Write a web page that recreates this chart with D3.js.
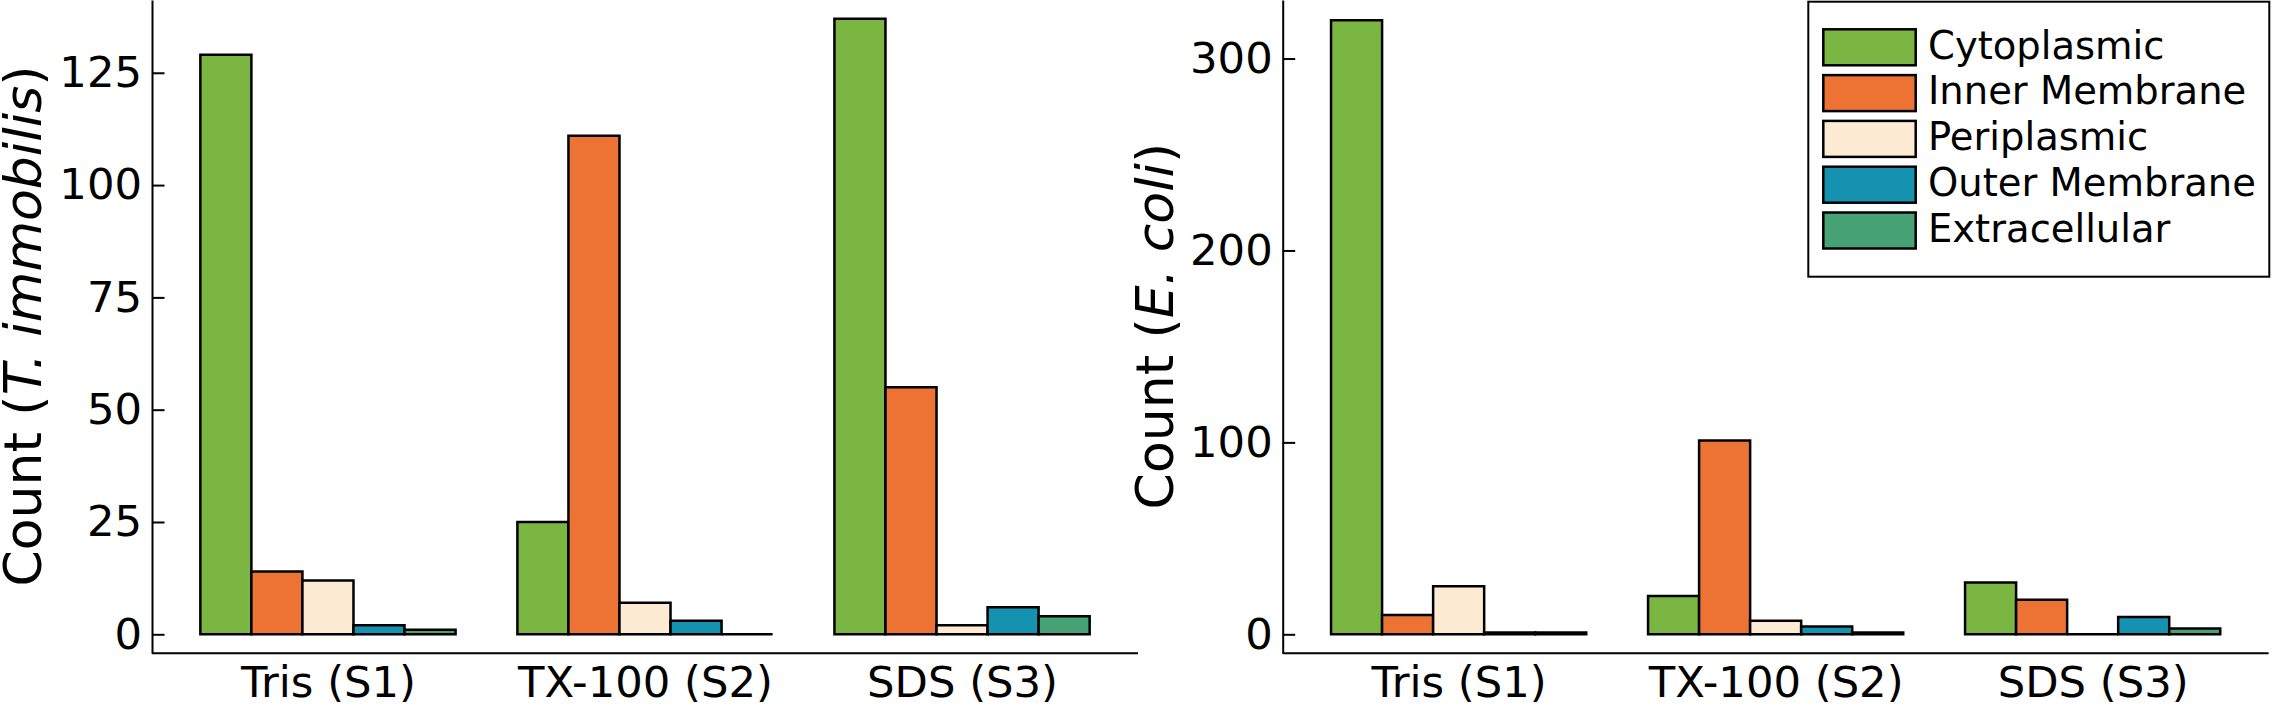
<!DOCTYPE html>
<meta charset="utf-8">

<style type="text/css">
body {
  margin: 0;
  background: #fff;
}
svg text {
  font-family: "DejaVu Sans", sans-serif;
  fill: #000;
}
.axis path, .axis line {
  stroke: #000;
  stroke-width: 2;
}
.bar {
  stroke: #000;
  stroke-width: 2.5;
}
</style>

<body>
  <div id="chart"></div>
</body>

<script src="https://d3js.org/d3.v7.min.js"></script>
<script>
// treatments along the x axis and the subcellular locations (one bar each)
var treatments = ["Tris (S1)", "TX-100 (S2)", "SDS (S3)"];
var locations = ["Cytoplasmic", "Inner Membrane", "Periplasmic", "Outer Membrane", "Extracellular"];
var colors = ["#7cb642", "#ed7335", "#fdead3", "#1592b0", "#47a376"];

// counts per treatment, in the order of locations
var immobilisCounts = [
  [129, 14, 12, 2, 1],
  [25, 111, 7, 3, 0],
  [137, 55, 2, 6, 4]
];
var coliCounts = [
  [320, 10, 25, 1, 1],
  [20, 101, 7, 4, 1],
  [27, 18, 0, 9, 3]
];

var immobilisTicks = [0, 25, 50, 75, 100, 125];
var coliTicks = [0, 100, 200, 300];

var W = 2275, H = 708;
var barW = 0.161;

var svg = d3.select("#chart").append("svg")
    .attr("width", W)
    .attr("height", H);

function drawPanel(counts, ticks, yDomain, left, right, labelX, species) {
  var xScale = d3.scaleLinear()
      .domain([-0.555, 2.555])
      .range([left, right]);
  var yScale = d3.scaleLinear()
      .domain(yDomain)
      .range([653.3, 0]);

  var g = svg.append("g");

  // bars, drawn as paths so zero-height bars still show their edge
  counts.forEach(function(row, i) {
    row.forEach(function(v, j) {
      var x0 = xScale(i + (j - 2.5) * barW);
      var x1 = xScale(i + (j - 1.5) * barW);
      var y0 = yScale(0), y1 = yScale(v);
      g.append("path")
          .attr("class", "bar")
          .attr("fill", colors[j])
          .attr("d", "M" + x0 + "," + y0 + "H" + x1 + "V" + y1 + "H" + x0 + "Z");
    });
  });

  // y axis with inward ticks
  g.append("g")
      .attr("class", "axis")
      .attr("transform", "translate(" + left + ",0)")
      .call(d3.axisLeft(yScale).tickValues(ticks).tickSizeInner(-12.5).tickSizeOuter(0).tickPadding(10))
      .selectAll("text")
      .style("font-size", "43.3px");

  // x axis, no tick marks
  var xa = g.append("g")
      .attr("class", "axis")
      .attr("transform", "translate(0,653.3)")
      .call(d3.axisBottom(xScale).tickValues([0, 1, 2])
        .tickFormat(function(d) { return treatments[d]; })
        .tickSize(0).tickPadding(12.7));
  xa.selectAll("text").style("font-size", "43.3px");
  xa.select(".domain").attr("d", "M" + left + ",0H" + right);

  // y label with the species name in italics
  var lab = g.append("text")
      .attr("transform", "translate(" + labelX + ",326) rotate(-90)")
      .attr("text-anchor", "middle")
      .style("font-size", "52px");
  lab.append("tspan").text("Count (");
  lab.append("tspan").style("font-style", "italic").text(species);
  lab.append("tspan").text(")");
}

drawPanel(immobilisCounts, immobilisTicks, [-4.23, 141.2], 152, 1138, 41, "T. immobilis");
drawPanel(coliCounts, coliTicks, [-9.9, 330.5], 1282.7, 2268.6, 1173, "E. coli");

// legend in the right panel
var legend = svg.append("g");
legend.append("rect")
    .attr("x", 1808.3).attr("y", 1.7)
    .attr("width", 461).attr("height", 275)
    .attr("fill", "#fff")
    .attr("stroke", "#000")
    .attr("stroke-width", 2);

locations.forEach(function(name, i) {
  legend.append("rect")
      .attr("class", "bar")
      .attr("x", 1823.3).attr("y", 29.3 + i * 45.8)
      .attr("width", 92.4).attr("height", 36)
      .attr("fill", colors[i]);
  legend.append("text")
      .attr("x", 1928).attr("y", 58.5 + i * 45.8)
      .style("font-size", "38.5px")
      .text(name);
});
</script>
